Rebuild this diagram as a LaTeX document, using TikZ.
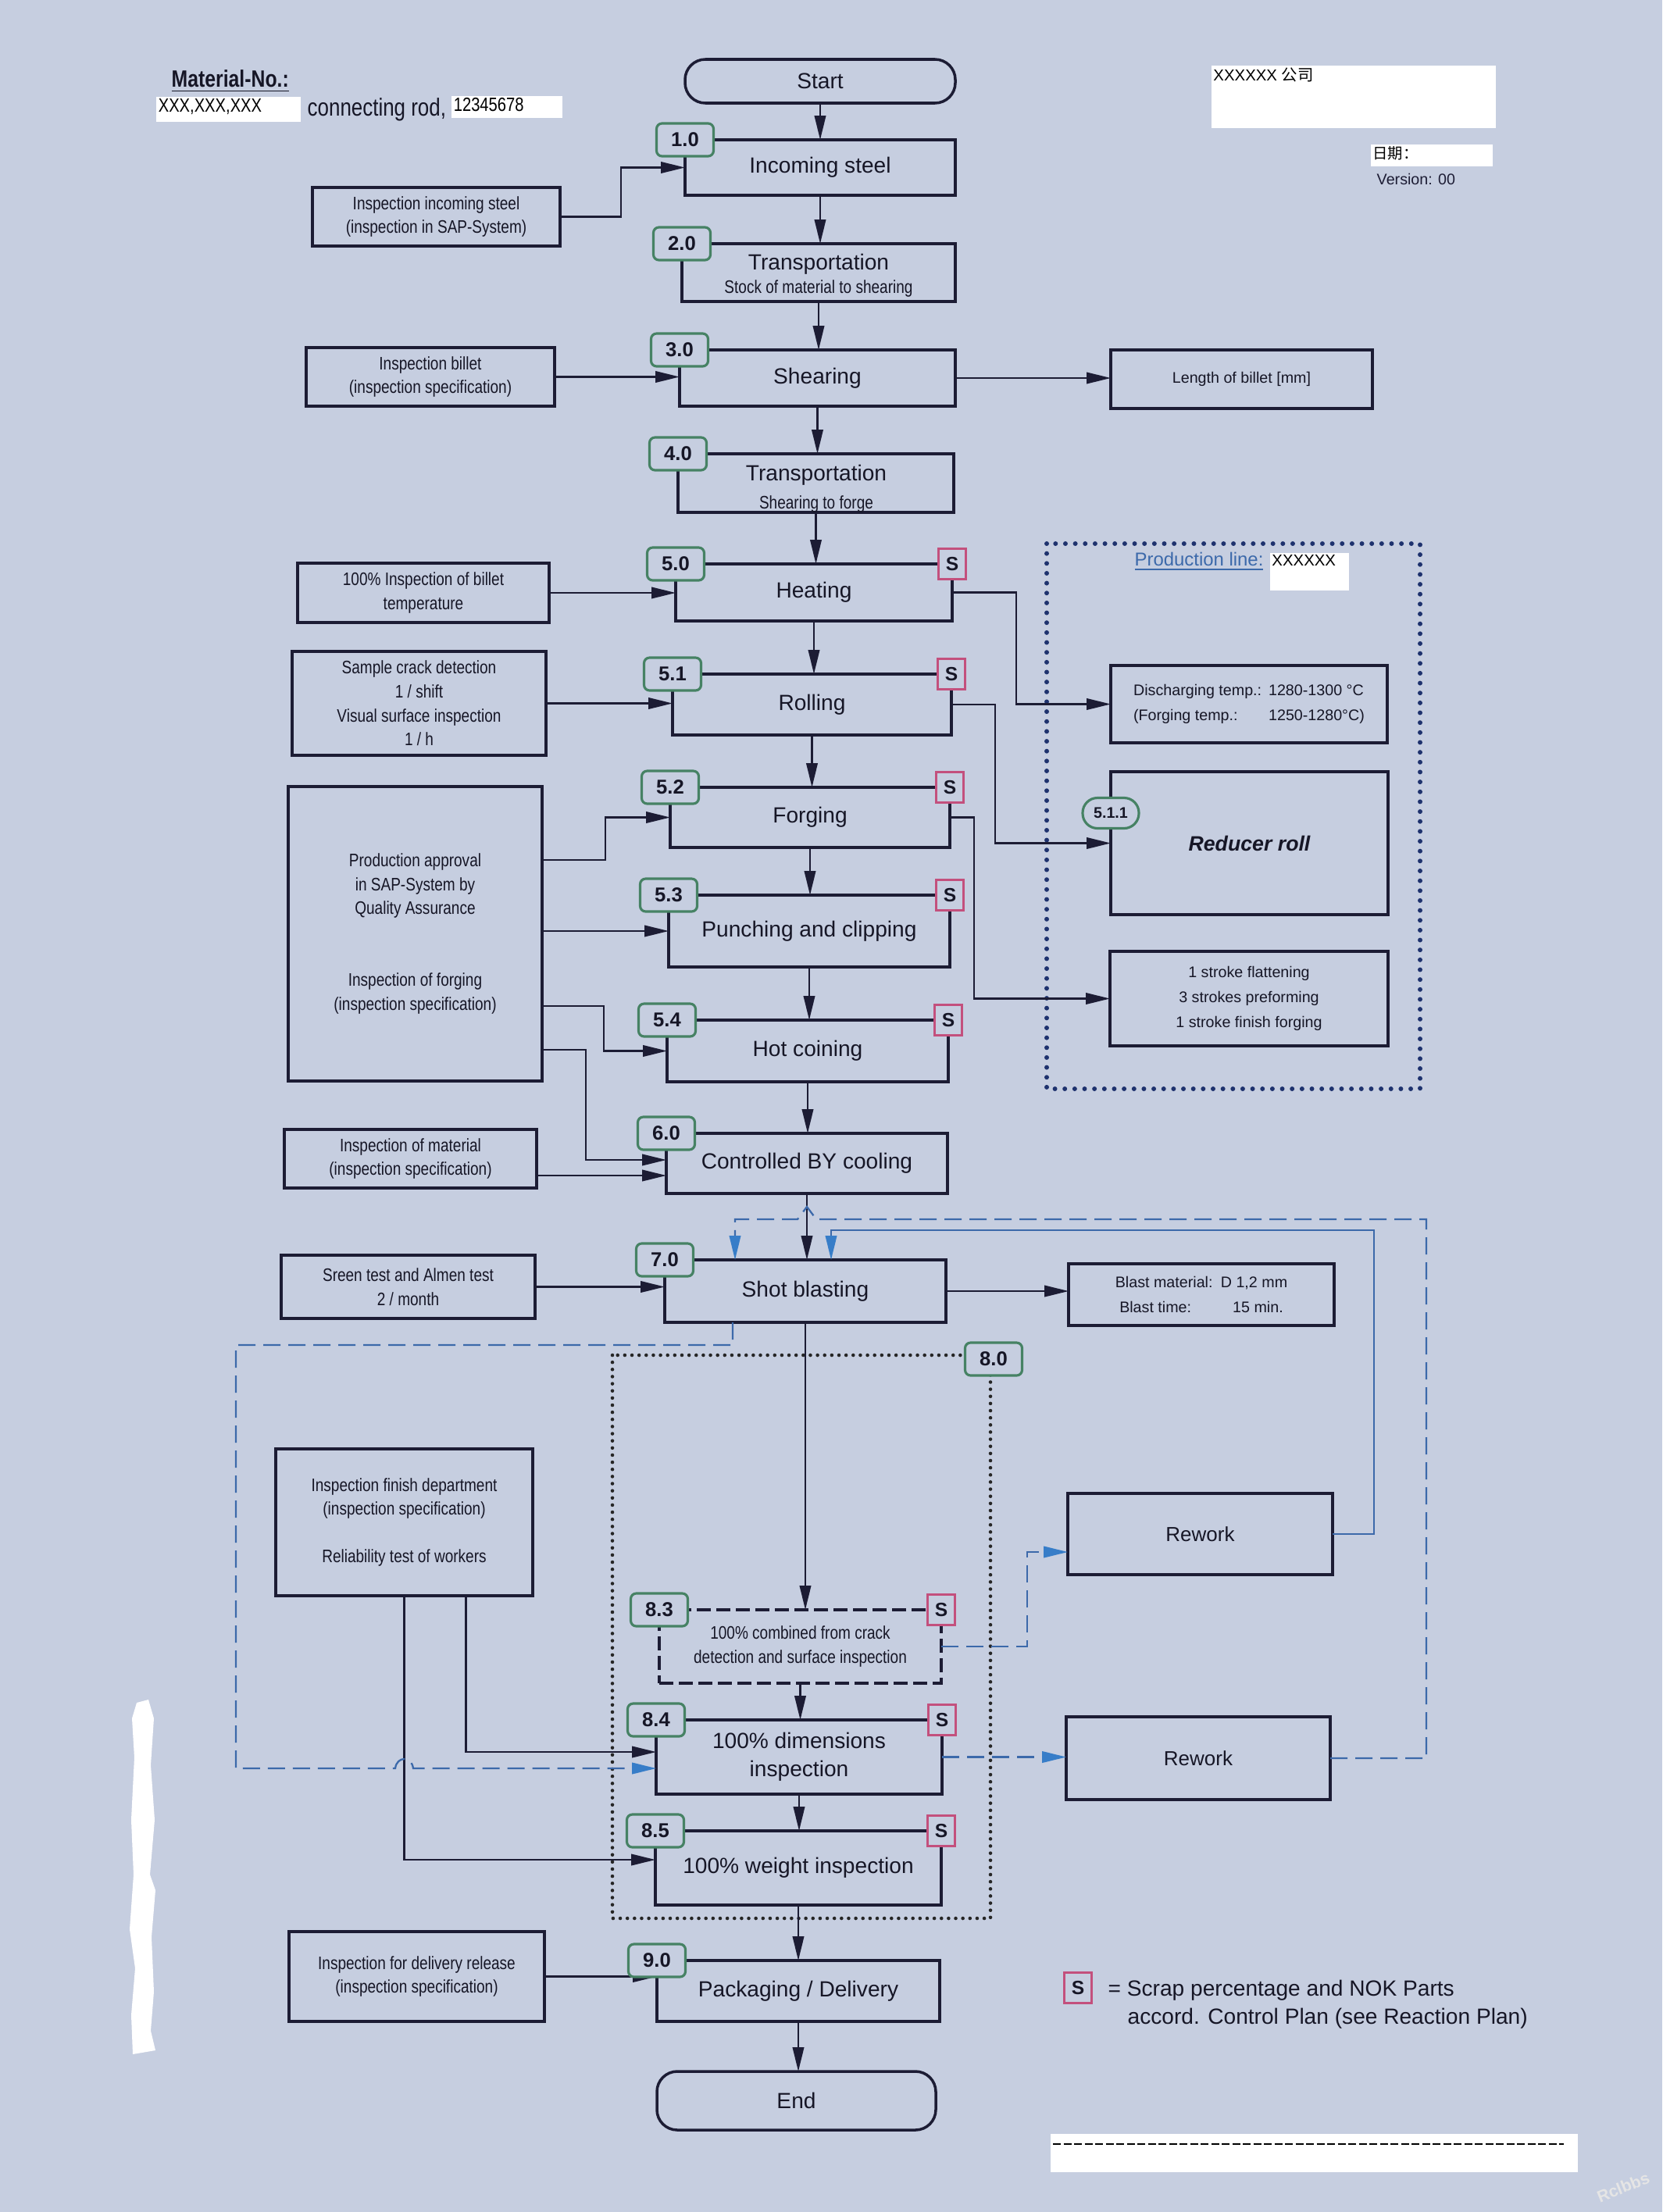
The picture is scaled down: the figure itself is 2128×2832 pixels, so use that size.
\documentclass[tikz,border=0pt]{standalone}
\usepackage{fontspec}
\setmainfont{Liberation Sans}
\newfontfamily\narrowf[FakeStretch=0.82]{Liberation Sans}
\newfontfamily\cjkf{Noto Sans CJK SC}
\usetikzlibrary{arrows.meta,calc}
\definecolor{bgc}{RGB}{198,206,224}
\definecolor{lnc}{RGB}{28,28,52}
\definecolor{txc}{RGB}{22,22,38}
\definecolor{tagc}{RGB}{70,130,100}
\definecolor{sqc}{RGB}{195,80,125}
\definecolor{bluec}{RGB}{60,105,170}
\definecolor{bluet}{RGB}{55,125,200}
\definecolor{dotb}{RGB}{30,50,110}
\newcommand\fmain{\fontsize{8}{10.2}\selectfont}
\newcommand\fside{\narrowf\fontsize{6.6}{8.7}\selectfont}
\newcommand\fsmall{\fontsize{5.6}{9}\selectfont}
\newcommand\ftag{\bfseries\fontsize{7.3}{8}\selectfont}
\newcommand\fsq{\bfseries\fontsize{7}{8}\selectfont}
\begin{document}
\begin{tikzpicture}[x=0.1mm,y=-0.1mm,
  every node/.style={text=txc},
  bxat/.style n args={4}{minimum width={(#3-#1)*0.1mm},minimum height={(#4-#2)*0.1mm},at={({(#1+#3)/2},{(#2+#4)/2})}},
  mbox/.style={draw=lnc,line width=1pt,inner sep=0pt,outer sep=0pt,align=center,font=\fmain},
  sbox/.style={draw=lnc,line width=0.9pt,inner sep=0pt,outer sep=0pt,align=center,font=\fside},
  rbox/.style={draw=lnc,line width=0.9pt,inner sep=0pt,outer sep=0pt,align=center,font=\fsmall},
  tag/.style={draw=tagc,fill=bgc,line width=0.9pt,rounded corners=2pt,minimum width=7.3mm,minimum height=4.2mm,inner sep=0pt,font=\ftag},
  sq/.style={draw=sqc,fill=bgc,line width=0.8pt,minimum width=3.5mm,minimum height=3.9mm,inner sep=0pt,font=\fsq},
  arr/.style={draw=lnc,line width=0.65pt,-{Triangle[length=3.1mm,width=1.45mm]}},
  barr/.style={draw=bluec,line width=0.65pt,-{Triangle[length=3.1mm,width=1.45mm,color=bluet]}},
  bdash/.style={dash pattern=on 2.2mm off 1mm},
  dotblue/.style={draw=dotb,line width=1.7pt,line cap=round,dash pattern=on 0pt off 3.6pt},
  dotblk/.style={draw=black!85,line width=1.3pt,line cap=round,dash pattern=on 0pt off 2.6pt},
  whitebox/.style={fill=white,inner sep=0pt,outer sep=0pt}
]
\fill[bgc] (0,0) rectangle (2128,2832);
\useasboundingbox (0,0) rectangle (2128,2832);

% white blotch on the left
\fill[white] (175,2180) -- (190,2176) -- (197,2200) -- (193,2260) -- (198,2330) -- (192,2400) -- (199,2420) -- (194,2480) -- (197,2550) -- (193,2600) -- (199,2625) -- (170,2630) -- (168,2580) -- (173,2520) -- (166,2470) -- (171,2400) -- (168,2330) -- (172,2250) -- (169,2200) -- cycle;

% ---------- header ----------
\node[anchor=west,inner sep=0pt,font=\narrowf\bfseries\fontsize{8.6}{10}\selectfont] (matno) at (219,104) {\underline{Material-No.:}};
\node[whitebox,bxat={200}{124}{385}{156}] (matbox) {};
\node[anchor=north west,inner sep=0.6pt,font=\narrowf\fontsize{7}{8}\selectfont,text=black] (matx) at (matbox.north west) {XXX,XXX,XXX};
\node[anchor=west,inner sep=0pt,font=\narrowf\fontsize{9}{10}\selectfont] (conrod) at (393,140) {connecting rod,};
\node[whitebox,bxat={578}{123}{720}{151}] (numbox) {};
\node[anchor=north west,inner sep=0.6pt,font=\narrowf\fontsize{7}{8}\selectfont,text=black] (numx) at (numbox.north west) {12345678};
\node[whitebox,bxat={1551}{84}{1915}{164}] (cobox) {};
\node[anchor=north west,inner sep=0.5pt,font=\fontsize{5.8}{7}\selectfont,text=black] (cox) at (cobox.north west) {XXXXXX {\cjkf 公司}};
\node[whitebox,bxat={1755}{185}{1911}{213}] (datebox) {};
\node[anchor=north west,inner sep=0.5pt,font=\cjkf\fontsize{5.5}{7}\selectfont,text=black] (datex) at (datebox.north west) {日期：};
\node[anchor=west,inner sep=0pt,font=\fontsize{5.6}{7}\selectfont,text=lnc] (ver) at (1762,229) {Version: 00};

% ---------- main column ----------
\node[mbox,rounded corners=2.6mm,bxat={877}{76}{1223}{132}] (start) {Start};
\node[mbox,bxat={877}{179}{1223}{250}] (s10) {Incoming steel};
\node[mbox,bxat={873}{312}{1223}{386}] (s20) {};
\node[font=\fmain,inner sep=0pt] (s20a) at (1048,338) {Transportation};
\node[font=\fside,inner sep=0pt] (s20b) at (1048,369) {Stock of material to shearing};
\node[mbox,bxat={870}{448}{1223}{520}] (s30) {Shearing};
\node[mbox,bxat={868}{581}{1221}{656}] (s40) {};
\node[font=\fmain,inner sep=0pt] (s40a) at (1045,608) {Transportation};
\node[font=\fside,inner sep=0pt] (s40b) at (1045,645) {Shearing to forge};
\node[mbox,bxat={865}{722}{1219}{795}] (s50) {Heating};
\node[mbox,bxat={861}{863}{1218}{941}] (s51) {Rolling};
\node[mbox,bxat={858}{1008}{1216}{1085}] (s52) {Forging};
\node[mbox,bxat={856}{1146}{1216}{1238}] (s53) {Punching and clipping};
\node[mbox,bxat={854}{1306}{1214}{1385}] (s54) {Hot coining};
\node[mbox,bxat={853}{1451}{1213}{1528}] (s60) {Controlled BY cooling};
\node[mbox,bxat={851}{1613}{1211}{1693}] (s70) {Shot blasting};
\node[mbox,font=\fside,dash pattern=on 1.8mm off 0.7mm,bxat={844}{2061}{1205}{2155}] (s83) {100\% combined from crack\\detection and surface inspection};
\node[mbox,bxat={840}{2202}{1206}{2297}] (s84) {100\% dimensions\\inspection};
\node[mbox,bxat={839}{2344}{1205}{2439}] (s85) {100\% weight inspection};
\node[mbox,bxat={841}{2510}{1203}{2588}] (s90) {Packaging / Delivery};
\node[mbox,rounded corners=2.6mm,bxat={841}{2652}{1198}{2727}] (end) {End};

% ---------- side boxes (left) ----------
\node[sbox,bxat={400}{240}{717}{315}] (insteel) {Inspection incoming steel\\(inspection in SAP-System)};
\node[sbox,bxat={392}{445}{710}{520}] (insbillet) {Inspection billet\\(inspection specification)};
\node[sbox,bxat={381}{721}{703}{797}] (insbt) {100\% Inspection of billet\\temperature};
\node[sbox,bxat={374}{834}{699}{967}] (sample) {Sample crack detection\\1 / shift\\Visual surface inspection\\1 / h};
\node[sbox,bxat={369}{1007}{694}{1384}] (prod) {Production approval\\in SAP-System by\\Quality Assurance\\[17.4pt]Inspection of forging\\(inspection specification)};
\node[sbox,bxat={364}{1446}{687}{1521}] (insmat) {Inspection of material\\(inspection specification)};
\node[sbox,bxat={360}{1607}{685}{1688}] (sreen) {Sreen test and Almen test\\2 / month};
\node[sbox,bxat={353}{1855}{682}{2043}] (insfinish) {Inspection finish department\\(inspection specification)\\[8.7pt]Reliability test of workers};
\node[sbox,bxat={370}{2473}{697}{2588}] (insdel) {Inspection for delivery release\\(inspection specification)};

% ---------- side boxes (right) ----------
\node[rbox,bxat={1422}{448}{1757}{523}] (length) {Length of billet [mm]};
\node[rbox,align=left,bxat={1422}{852}{1776}{951}] (disch) {\makebox[17.3mm][l]{Discharging temp.:}1280-1300 °C\\\makebox[17.3mm][l]{(Forging temp.:}1250-1280°C)};
\node[rbox,font=\bfseries\itshape\fontsize{7.6}{9}\selectfont,bxat={1422}{988}{1777}{1171}] (reducer) {Reducer roll};
\node[rbox,bxat={1421}{1218}{1777}{1339}] (stroke) {1 stroke flattening\\3 strokes preforming\\1 stroke finish forging};
\node[rbox,bxat={1368}{1618}{1708}{1697}] (blast) {\makebox[13.5mm][l]{Blast material:}D 1,2 mm\\\makebox[14.5mm][l]{Blast time:}15 min.};
\node[rbox,font=\fontsize{7.4}{9}\selectfont,bxat={1367}{1912}{1706}{2016}] (rework1) {Rework};
\node[rbox,font=\fontsize{7.4}{9}\selectfont,bxat={1365}{2198}{1703}{2304}] (rework2) {Rework};

% ---------- dotted groups ----------
\draw[dotblue] (1340,696) rectangle (1818,1394);
\node[anchor=west,inner sep=0pt,font=\fontsize{6.8}{8}\selectfont,text=bluec] (pline) at (1452,719) {\underline{Production line:}};
\node[whitebox,bxat={1626}{708}{1727}{756}] (plbox) {};
\node[anchor=north west,inner sep=0.5pt,font=\fontsize{5.8}{7}\selectfont,text=black] (plx) at (plbox.north west) {XXXXXX};
\draw[dotblk] (784,1735) rectangle (1268,2456);

% ---------- main flow arrows ----------
\draw[arr] (start.south) -- (start.south |- s10.north);
\draw[arr] (s10.south) -- (s10.south |- s20.north);
\draw[arr] (s20.south) -- (s20.south |- s30.north);
\draw[arr] (s30.south) -- (s30.south |- s40.north);
\draw[arr] (s40.south) -- (s40.south |- s50.north);
\draw[arr] (s50.south) -- (s50.south |- s51.north);
\draw[arr] (s51.south) -- (s51.south |- s52.north);
\draw[arr] (s52.south) -- (s52.south |- s53.north);
\draw[arr] (s53.south) -- (s53.south |- s54.north);
\draw[arr] (s54.south) -- (s54.south |- s60.north);
\draw[arr] (s60.south) -- (s60.south |- s70.north);
\draw[arr] (s70.south) -- (s70.south |- s83.north);
\draw[arr] (s83.south) -- (s83.south |- s84.north);
\draw[arr] (s84.south) -- (s84.south |- s85.north);
\draw[arr] (s85.south) -- (s85.south |- s90.north);
\draw[arr] (s90.south) -- (s90.south |- end.north);

% ---------- inputs from left ----------
\draw[arr] (insteel.east) -- ++(78,0) |- (s10.west);
\draw[arr] (insbillet.east) -- (insbillet.east -| s30.west);
\draw[arr] (insbt.east) -- (insbt.east -| s50.west);
\draw[arr] (sample.east) -- (sample.east -| s51.west);
\draw[arr] (prod.east |- 0,1101) -- (775,1101) |- (s52.west);
\draw[arr] (prod.east |- s53.west) -- (s53.west);
\draw[arr] (prod.east |- 0,1288) -- (773,1288) |- (s54.west);
\draw[arr] (prod.east |- 0,1344) -- (750,1344) |- (s60.west |- 0,1485);
\draw[arr] (insmat.east |- 0,1505) -- (s60.west |- 0,1505);
\draw[arr] (sreen.east) -- (sreen.east -| s70.west);
\draw[arr] (insfinish.south) |- (s85.west |- 0,2381);
\draw[arr] ($(insfinish.south)+(79,0)$) |- (s84.west |- 0,2243);
\draw[arr] (insdel.east) -- (insdel.east -| s90.west);

% ---------- outputs to right ----------
\draw[arr] (s30.east) -- (s30.east -| length.west);
\draw[arr] (s50.east) -- ++(82,0) |- (disch.west);
\draw[arr] (s51.east) -- ++(56,0) |- (reducer.west);
\draw[arr] (s52.east) -- ++(31,0) |- (stroke.west);
\draw[arr] (s70.east) -- (s70.east -| blast.west);

% ---------- rework loops ----------
\draw[barr,bdash] (s83.east) -- ++(110,0) |- (rework1.west |- 0,1987);
\draw[barr,bdash] (s84.east) -- (s84.east -| rework2.west);
\draw[barr] (rework1.east) -- ++(53,0) |- (1064,1575) -- (s70.north -| 1064,0);
\draw[barr,bdash] (rework2.east) -- (1826,2251) -- (1826,1561) -- (1045,1561) -- (1033,1545) -- (1021,1561) -- (941,1561) -- (s70.north -| 941,0);
\draw[barr,bdash] ($(s70.south)+(-93,0)$) -- ++(0,29) -- (302,1722) -- (302,2264) -- (506,2264) .. controls (508,2248) and (527,2248) .. (529,2264) -- (s84.west |- 0,2264);

% ---------- tags ----------
\foreach \n/\t in {s10/1.0,s20/2.0,s30/3.0,s40/4.0,s50/5.0,s51/5.1,s52/5.2,s53/5.3,s54/5.4,s60/6.0,s70/7.0,s83/8.3,s84/8.4,s85/8.5,s90/9.0}
  \node[tag] (t\n) at (\n.north west) {\t};
\node[tag] (t80) at (1272,1740) {8.0};
\foreach \n in {s50,s51,s52,s53,s54,s83,s84,s85}
  \node[sq] (q\n) at (\n.north east) {S};
\node[draw=tagc,fill=bgc,line width=0.9pt,rounded corners=1.9mm,minimum width=7.2mm,minimum height=3.9mm,inner sep=0pt,font=\bfseries\fontsize{5.6}{6}\selectfont] (t511) at (reducer.west |- 0,1041) {5.1.1};

% ---------- legend ----------
\node[sq] (lgs) at (1380,2545) {S};
\node[anchor=west,inner sep=0pt,font=\fmain] (lg1) at (1418,2548) {= Scrap percentage and NOK Parts};
\node[anchor=west,inner sep=0pt,font=\fmain] (lg2) at (1443,2584) {accord. Control Plan (see Reaction Plan)};

% ---------- bottom white box ----------
\node[whitebox,bxat={1345}{2732}{2020}{2781}] (wb) {};
\draw[black,line width=0.5pt,dash pattern=on 1mm off 0.35mm] ($(wb.north west)+(3,13)$) -- ($(wb.north east)+(-18,13)$);

% watermark
\node[rotate=22,inner sep=0pt,font=\bfseries\fontsize{6}{6}\selectfont,text=white!80!gray] (wm) at (2078,2800) {Rclbbs};
\end{tikzpicture}
\end{document}
